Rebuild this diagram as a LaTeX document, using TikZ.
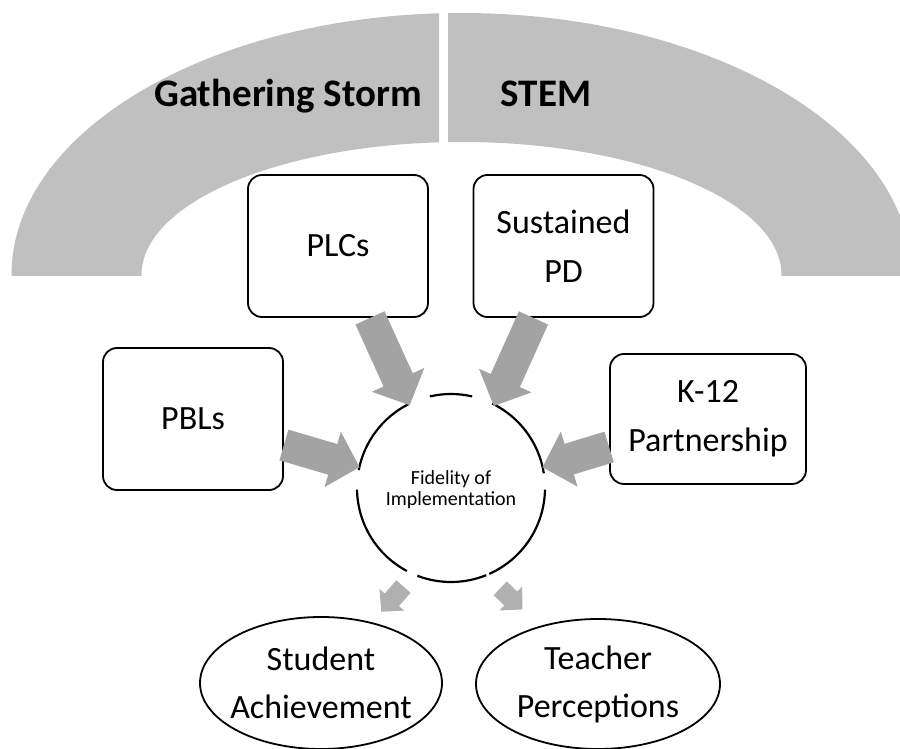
\documentclass[tikz,border=0pt]{standalone}
\usepackage{fontspec}
\setmainfont{Carlito}
\usetikzlibrary{shapes.geometric, arrows.meta}
\definecolor{bandgray}{RGB}{192,192,192}
\definecolor{arrowgray}{RGB}{163,163,163}
\definecolor{tipgray}{RGB}{176,176,176}
\tikzstyle{box} = [rectangle, rounded corners=14pt, minimum width=180pt, minimum height=142pt, text centered, align=center, draw=black, line width=1.8pt, fill=white, font=\fontsize{34}{49}\selectfont]
\tikzstyle{outcome} = [ellipse, minimum width=242pt, minimum height=132pt, inner xsep=-12pt, inner ysep=0pt, text centered, align=center, draw=black, line width=1.8pt, fill=white, font=\fontsize{34}{48}\selectfont]
\tikzstyle{hub} = [circle, minimum size=188pt, inner sep=0pt, align=center, font=\fontsize{20}{21}\selectfont]
\tikzstyle{ring} = [line width=2.2pt, black]
\tikzstyle{title} = [anchor=base, inner sep=0pt, font=\fontsize{39}{44}\selectfont\bfseries]
\tikzstyle{bigarrow} = [arrowgray, line width=32pt, -{Triangle[length=28pt,width=56pt]}]
\tikzstyle{smallarrow} = [tipgray, line width=19pt, -{Triangle[length=16pt,width=32pt]}]

\begin{document}
\begin{tikzpicture}[x=1pt, y=-1pt]
\useasboundingbox (0,0) rectangle (900,749);

% band at the top, split in two
\begin{scope}
\clip (0,0) rectangle (439,275);
\fill[bandgray, even odd rule] (461.5,275) ellipse [x radius=450, y radius=262]
  (461.5,275) ellipse [x radius=320, y radius=133];
\end{scope}
\begin{scope}
\clip (448,0) rectangle (900,275);
\fill[bandgray, even odd rule] (461.5,275) ellipse [x radius=450, y radius=262]
  (461.5,275) ellipse [x radius=320, y radius=133];
\end{scope}
\node (storm) [title] at (288,107) {Gathering Storm};
\node (stem) [title] at (546,107) {STEM};

% the four inputs
\node (plcs) [box] at (338,246) {PLCs};
\node (pd) [box] at (563.5,246) {Sustained\\PD};
\node (pbls) [box] at (193,419) {PBLs};
\node (k12) [box, minimum width=196pt, minimum height=130pt] at (708,419) {K-12\\Partnership};

% centre
\node (fid) [hub] at (451,490) {Fidelity of\\Implementation};
\foreach \a/\b in {77/103, 117/169, 181/242, 249/292, 294/359, 9/64}
  \draw[ring] ([shift={(\a:94pt)}]fid.center) ++(0,-2) arc[start angle=\a, end angle=\b, radius=94pt];

% outcomes
\node (student) [outcome] at (321,683) {Student\\Achievement};
\node (teacher) [outcome, minimum width=244pt, minimum height=130pt] at (598,684) {Teacher\\Perceptions};

\draw [bigarrow] ([xshift=32pt]plcs.south) -- (fid.116);
\draw [bigarrow] ([xshift=-30pt]pd.south) -- (fid.63);
\draw [bigarrow] ([yshift=-26pt]pbls.east) -- (fid.166);
\draw [bigarrow] ([yshift=-28pt]k12.west) -- (fid.14);
\draw [smallarrow, shorten <=14pt, shorten >=14pt] (fid.246) -- (student.50);
\draw [smallarrow, shorten <=17pt, shorten >=24pt] (fid.293) -- (teacher.135);

\end{tikzpicture}
\end{document}
